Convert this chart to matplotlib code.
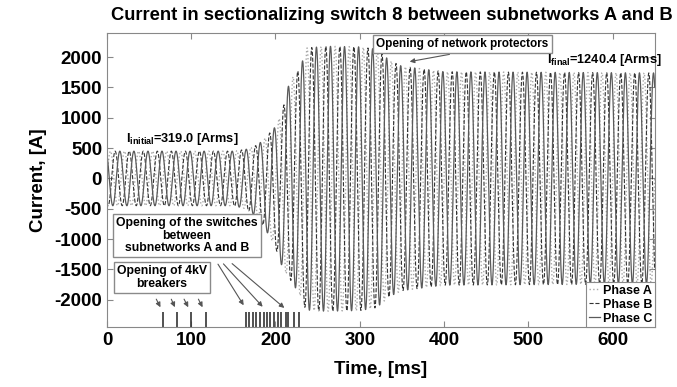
import numpy as np
import matplotlib
matplotlib.use("Agg")
import matplotlib.pyplot as plt
from matplotlib.lines import Line2D

plt.rcParams['font.family'] = ['Liberation Sans', 'DejaVu Sans']
plt.rcParams['font.weight'] = 'bold'
plt.rcParams['axes.unicode_minus'] = False
plt.rcParams['mathtext.fontset'] = 'custom'
plt.rcParams['mathtext.rm'] = 'Liberation Sans:bold'
plt.rcParams['mathtext.it'] = 'Liberation Sans:bold'
plt.rcParams['mathtext.bf'] = 'Liberation Sans:bold'

# envelope (time in ms, current in A)
env_t = [0, 150, 165, 178, 185, 199, 208, 214, 220, 230, 236, 260, 300, 320, 335, 350, 400, 650]
env_top = [450, 450, 480, 550, 625, 840, 1090, 1480, 1660, 1830, 2150, 2180, 2170, 2130, 1950, 1850, 1760, 1740]
env_bot = [-450, -450, -500, -640, -770, -1100, -1460, -1600, -1720, -1950, -2170, -2190, -2180, -2130, -1950, -1850, -1760, -1740]

f_hz = 60.0
phase_names = ["Phase A", "Phase B", "Phase C"]
phase_shift_deg = [0, -120, 120]

# switching events (ms)
breaker_times = [66, 83, 100, 117]
switch_times = [165, 169, 173, 177, 182, 186, 190, 194, 198, 203, 207, 212, 215, 222, 228]

t = np.arange(0, 650.05, 0.1)
top = np.interp(t, env_t, env_top)
bot = np.interp(t, env_t, env_bot)
mid = (top + bot) / 2
half = (top - bot) / 2

fig = plt.figure(figsize=(6.77, 3.87), dpi=100)
ax = fig.add_axes([0.158, 0.155, 0.809, 0.76])

styles = [
    dict(color="#a8a8a8", linestyle=":", linewidth=1.0),
    dict(color="#333333", linestyle="--", linewidth=0.8),
    dict(color="#5a5a5a", linestyle="-", linewidth=0.9),
]
for name, sh, st in zip(phase_names, phase_shift_deg, styles):
    y = mid + half * np.sin(2 * np.pi * f_hz * t / 1000.0 + np.radians(sh))
    ax.plot(t, y, label=name, **st)

ax.vlines(breaker_times, -2450, -2200, color="#333333", linewidth=1.2)
ax.vlines(switch_times, -2450, -2200, color="#333333", linewidth=1.2)

ax.set_xlim(0, 650)
ax.set_ylim(-2450, 2400)
ax.set_xticks([0, 100, 200, 300, 400, 500, 600])
ax.set_yticks([-2000, -1500, -1000, -500, 0, 500, 1000, 1500, 2000])
ax.tick_params(direction="in", top=True, right=True, labelsize=13.5, length=4, color="#888888")
for lab in ax.get_xticklabels() + ax.get_yticklabels():
    lab.set_fontweight("bold")
for s in ax.spines.values():
    s.set_color("#888888")

ax.set_title("Current in sectionalizing switch 8 between subnetworks A and B",
             fontsize=13.2, fontweight="bold", pad=9, x=0.52)
ax.set_xlabel("Time, [ms]", fontsize=13.5, fontweight="bold", labelpad=9)
ax.set_ylabel("Current, [A]", fontsize=13.5, fontweight="bold", labelpad=5)

box = dict(boxstyle="square,pad=0.25", fc="white", ec="#8a8a8a", lw=1.0)
arr = dict(arrowstyle="-|>", color="#555555", lw=0.8, mutation_scale=7)

ax.annotate("Opening of network protectors", xy=(356, 1918), xytext=(422, 2210),
            ha="center", va="center", fontsize=8.5, fontweight="bold", bbox=box,
            arrowprops=dict(arr, relpos=(0.55, 0.0)))

ax.text(95, -947, "Opening of the switches\nbetween\nsubnetworks A and B",
        ha="center", va="center", fontsize=8.8, fontweight="bold", bbox=box,
        linespacing=1.05)
for (x0, x1, y1) in [(130, 164, -2130), (136, 187, -2150), (146, 213, -2165)]:
    ax.annotate("", xy=(x1, y1), xytext=(x0, -1375), arrowprops=arr)

ax.text(65, -1630, "Opening of 4kV\nbreakers", ha="center", va="center",
        fontsize=8.8, fontweight="bold", bbox=box, linespacing=1.05)
for (x0, x1) in [(57, 65), (75, 82), (90, 98), (107, 115)]:
    ax.annotate("", xy=(x1, -2165), xytext=(x0, -1950), arrowprops=arr)

ax.text(22, 650, r"I$_{\mathrm{initial}}$=319.0 [Arms]", ha="left", va="center",
        fontsize=9.2, fontweight="bold")
ax.text(522, 1950, r"I$_{\mathrm{final}}$=1240.4 [Arms]", ha="left", va="center",
        fontsize=9.2, fontweight="bold")

handles = [Line2D([], [], **st) for st in styles]
leg = ax.legend(handles, phase_names, loc="lower right", fontsize=9,
                handlelength=0.9, handletextpad=0.2, borderaxespad=0.0,
                borderpad=0.2, labelspacing=0.15, fancybox=False,
                framealpha=1.0, edgecolor="#8a8a8a")
leg.get_frame().set_linewidth(0.8)

fig.savefig("out.png", dpi=100)
